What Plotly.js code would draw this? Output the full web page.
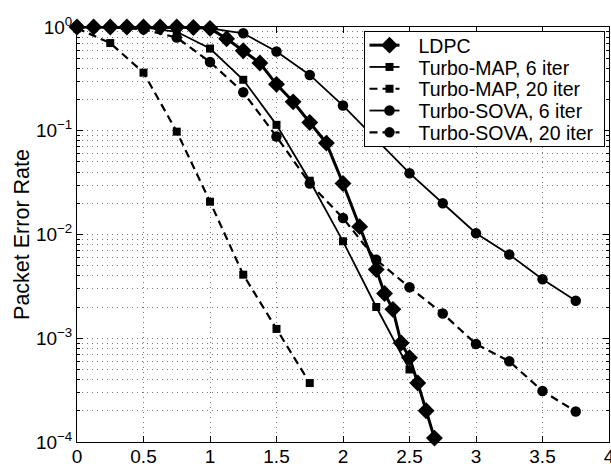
<!DOCTYPE html>
<html>
<head>
<meta charset="utf-8">
<script src="https://cdn.plot.ly/plotly-3.0.1.min.js"></script>
<style>html,body{margin:0;padding:0;background:#fff;}#chart{width:611px;height:464px;}</style>
</head>
<body>
<div id="chart"></div>
<script>
// ---- data ----
const seriesNames = ["LDPC", "Turbo-MAP, 6 iter", "Turbo-MAP, 20 iter", "Turbo-SOVA, 6 iter", "Turbo-SOVA, 20 iter"];

const ldpcX = [0, 0.125, 0.25, 0.375, 0.5, 0.625, 0.75, 0.875, 1.0, 1.125, 1.25, 1.375, 1.5, 1.625, 1.75, 1.875, 2.0, 2.125, 2.25, 2.3125, 2.375, 2.4375, 2.5, 2.5625, 2.625, 2.6875];
const ldpcY = [1, 1, 1, 1, 1, 1, 1, 0.99, 0.97, 0.77, 0.59, 0.45, 0.28, 0.19, 0.12, 0.076, 0.031, 0.0119, 0.0046, 0.0027, 0.0019, 0.0009, 0.00065, 0.00037, 0.0002, 0.000109];

const map6X = [0, 0.25, 0.5, 0.75, 1.0, 1.25, 1.5, 1.75, 2.0, 2.25, 2.5];
const map6Y = [1, 1, 0.99, 0.90, 0.62, 0.31, 0.114, 0.033, 0.0086, 0.0020, 0.0005];

const map20X = [0, 0.25, 0.5, 0.75, 1.0, 1.25, 1.5, 1.75];
const map20Y = [0.97, 0.70, 0.363, 0.098, 0.0207, 0.0041, 0.00123, 0.00037];

const sova6X = [0, 0.25, 0.5, 0.75, 1.0, 1.25, 1.5, 1.75, 2.0, 2.25, 2.5, 2.75, 3.0, 3.25, 3.5, 3.75];
const sova6Y = [1, 1, 1, 0.99, 0.97, 0.87, 0.58, 0.345, 0.175, 0.083, 0.039, 0.020, 0.0103, 0.0064, 0.0037, 0.0023];

const sova20X = [0, 0.25, 0.5, 0.75, 1.0, 1.25, 1.5, 1.75, 2.0, 2.25, 2.5, 2.75, 3.0, 3.25, 3.5, 3.75];
const sova20Y = [1, 0.99, 0.95, 0.79, 0.46, 0.235, 0.088, 0.031, 0.0144, 0.0057, 0.0031, 0.00173, 0.00088, 0.0006, 0.00031, 0.000197];

const xTickVals = [0, 0.5, 1, 1.5, 2, 2.5, 3, 3.5, 4];
const xTickText = ["0", "0.5", "1", "1.5", "2", "2.5", "3", "3.5", "4"];
const yTickVals = [1e-4, 1e-3, 1e-2, 1e-1, 1];
const yTickText = ["10<sup>\u22124</sup>", "10<sup>\u22123</sup>", "10<sup>\u22122</sup>", "10<sup>\u22121</sup>", "10<sup>0</sup>"];
const yTitle = "Packet Error Rate";

// ---- chart ----
const FONT = "Liberation Sans, Arial, Helvetica, sans-serif";
const minorVals = [];
for (let d = -4; d < 0; d++) for (let m = 2; m <= 9; m++) minorVals.push(m * Math.pow(10, d));

function tr(name, x, y, sym, size, width, dash) {
  return {
    type: "scatter", mode: "lines+markers", name: name, x: x, y: y,
    cliponaxis: false,
    line: {color: "#000", width: width, dash: dash},
    marker: {symbol: sym, size: size, color: "#000", line: {color: "#000", width: 0}}
  };
}

const data = [
  tr(seriesNames[0], ldpcX, ldpcY, "diamond", 13, 3, "solid"),
  tr(seriesNames[1], map6X, map6Y, "square", 8, 1.8, "solid"),
  tr(seriesNames[2], map20X, map20Y, "square", 8, 2.2, "8px,5px"),
  tr(seriesNames[3], sova6X, sova6Y, "circle", 10.5, 1.8, "solid"),
  tr(seriesNames[4], sova20X, sova20Y, "circle", 10.5, 2.2, "8px,5px")
];

const gridCol = "#777";
const gridDash = "1px,4px";
const layout = {
  width: 611, height: 464,
  margin: {l: 77, r: 2, t: 27, b: 22, pad: 0},
  paper_bgcolor: "#fff", plot_bgcolor: "#fff",
  font: {family: FONT, color: "#000", size: 18},
  showlegend: true,
  legend: {
    x: 0.991, y: 0.99, xanchor: "right", yanchor: "top",
    bgcolor: "#fff", bordercolor: "#000", borderwidth: 1,
    font: {family: FONT, size: 19.5, color: "#000"},
    tracegroupgap: 0
  },
  xaxis: {
    range: [0, 4], tickmode: "array", tickvals: xTickVals, ticktext: xTickText,
    showline: true, linecolor: "#000", linewidth: 1, mirror: "ticks",
    ticks: "inside", ticklen: 6, tickcolor: "#000",
    showgrid: true, gridcolor: gridCol, griddash: gridDash, gridwidth: 1,
    zeroline: false, tickfont: {family: FONT, size: 19, color: "#000"},
    ticklabeloverflow: "allow", ticklabelstandoff: -3
  },
  yaxis: {
    type: "log", range: [-4, 0], tickmode: "array", tickvals: yTickVals, ticktext: yTickText,
    showline: true, linecolor: "#000", linewidth: 1, mirror: "ticks",
    ticks: "inside", ticklen: 6, tickcolor: "#000",
    showgrid: true, gridcolor: gridCol, griddash: gridDash, gridwidth: 1,
    zeroline: false, tickfont: {family: FONT, size: 19, color: "#000"},
    title: {text: yTitle, font: {family: FONT, size: 21.5, color: "#000"}, standoff: 0},
    minor: {tickmode: "array", tickvals: minorVals, ticks: "inside", ticklen: 3, tickcolor: "#000",
            showgrid: true, gridcolor: gridCol, griddash: gridDash, gridwidth: 1}
  }
};

function parseT(t) {
  const m = /translate\(\s*([-\d.e]+)(?:[ ,]+([-\d.e]+))?\s*\)/.exec(t || "");
  return m ? [parseFloat(m[1]), m[2] !== undefined ? parseFloat(m[2]) : 0] : [0, 0];
}

function tightenLegend(gd) {
  try {
    const leg = gd.querySelector("g.legend");
    if (!leg) return;
    const bg = leg.querySelector("rect.bg");
    const legBox = leg.getBoundingClientRect();
    // target box: left 364, right 604, top 31, bottom 145
    const targetLeft = 364, targetWidth = 240;
    const lt = parseT(leg.getAttribute("transform"));
    const curLeft = legBox.left;
    const dx = targetLeft - curLeft;
    leg.setAttribute("transform", "translate(" + (lt[0] + dx) + "," + lt[1] + ")");
    const items = leg.querySelectorAll("g.traces");
    const step = 21.8, first = 14;
    items.forEach(function (g, i) {
      const p = parseT(g.getAttribute("transform"));
      g.setAttribute("transform", "translate(" + p[0] + "," + (first + step * i) + ")");
      const sym = g.querySelector("g.legendsymbols") || g.querySelector("g.legendpoints");
      if (sym) sym.setAttribute("transform", "translate(5,0) " + (sym.getAttribute("transform") || ""));
      const txt = g.querySelector("text.legendtext");
      if (txt) txt.setAttribute("transform", "translate(14,0) " + (txt.getAttribute("transform") || ""));
    });
    const h = first * 2 + step * (items.length - 1);
    if (bg) { bg.setAttribute("height", h); bg.setAttribute("width", targetWidth); }
    const sb = leg.querySelector("g.scrollbox");
    if (sb) sb.removeAttribute("clip-path");
    leg.removeAttribute("clip-path");
  } catch (e) {}
}

Plotly.newPlot("chart", data, layout, {staticPlot: true, displayModeBar: false}).then(function (gd) {
  tightenLegend(gd);
});
</script>
</body>
</html>
